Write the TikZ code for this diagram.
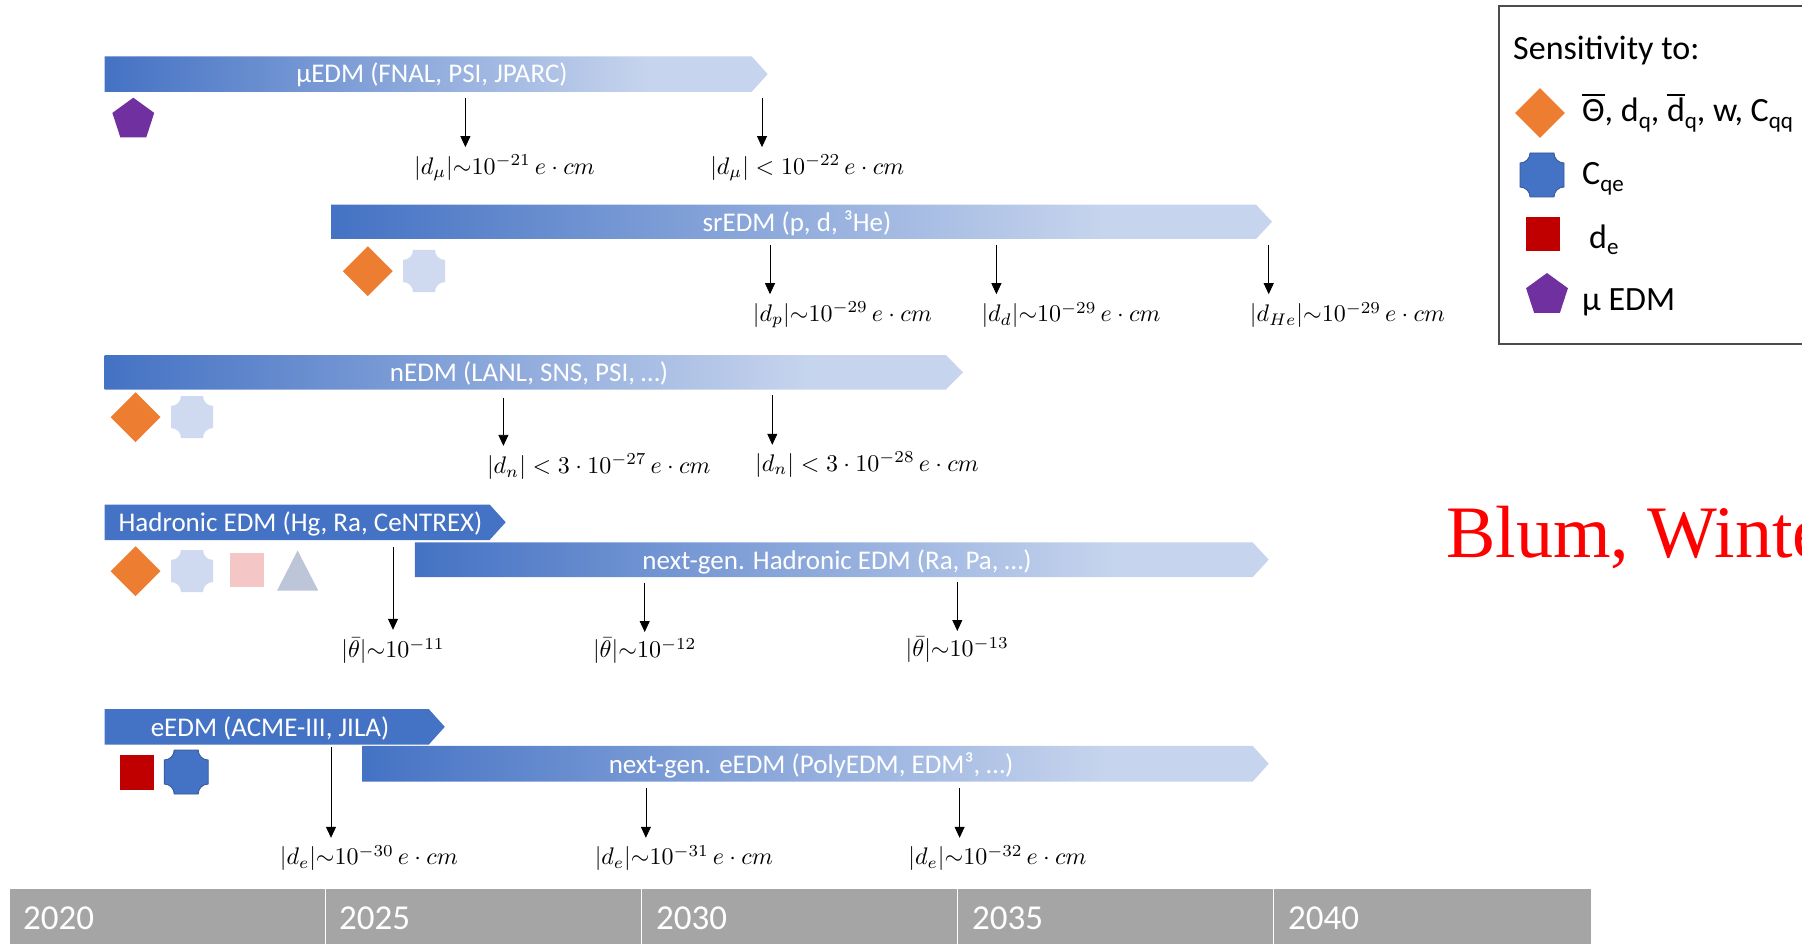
\documentclass[tikz,border=0pt]{standalone}
\usepackage{fontspec}
\setmainfont{Carlito}
\newfontfamily\serifred{Liberation Serif}
\usetikzlibrary{arrows.meta,shapes.geometric}
\definecolor{barblue}{HTML}{4472C4}
\definecolor{barpale}{HTML}{C6D4ED}
\definecolor{paleblue}{HTML}{CFDAF0}
\definecolor{orangeD}{HTML}{ED7D31}
\definecolor{redS}{HTML}{C00000}
\definecolor{pinkS}{HTML}{F4C6C6}
\definecolor{purpleP}{HTML}{7030A0}
\definecolor{greyT}{HTML}{BDC5D8}
\definecolor{greyBar}{HTML}{A5A5A5}
\pgfdeclarehorizontalshading{barfade}{100bp}{color(0bp)=(barblue); color(25bp)=(barblue); color(66bp)=(barpale); color(100bp)=(barpale)}
\newcommand\sz[1]{\fontsize{#1}{#1}\selectfont}
\newcommand\lowtxt[1]{\raisebox{-.2em}{\sz{23}#1}}
\newcommand\ovl[1]{\setbox0\hbox{#1}\rlap{\raisebox{26pt}{\rule{\wd0}{1.6pt}}}\box0}
% fading arrow bar: name, x0, y0, y1, neck, tip, label x, label
\newcommand\fadebar[7]{%
  \path[shading=barfade] (#2,#3) -- (#5,#3) -- (#6,{(#3+#4)/2}) -- (#5,#4) -- (#2,#4) -- cycle;
  \node[barlabel] (#1) at (#7) {\barlabeltext};}
\newcommand\solidbar[6]{%
  \path[fill=barblue] (#2,#3) -- (#5,#3) -- (#6,{(#3+#4)/2}) -- (#5,#4) -- (#2,#4) -- cycle;}
% plaque: cx, cy, half size, style
\newcommand\plaque[4]{%
  \path[#4] ({#1-#3+10},{#2-#3}) -- ({#1+#3-10},{#2-#3})
   .. controls ({#1+#3-10},{#2-#3+5.5}) and ({#1+#3-5.5},{#2-#3+10}) .. ({#1+#3},{#2-#3+10})
   -- ({#1+#3},{#2+#3-10})
   .. controls ({#1+#3-5.5},{#2+#3-10}) and ({#1+#3-10},{#2+#3-5.5}) .. ({#1+#3-10},{#2+#3})
   -- ({#1-#3+10},{#2+#3})
   .. controls ({#1-#3+10},{#2+#3-5.5}) and ({#1-#3+5.5},{#2+#3-10}) .. ({#1-#3},{#2+#3-10})
   -- ({#1-#3},{#2-#3+10})
   .. controls ({#1-#3+5.5},{#2-#3+10}) and ({#1-#3+10},{#2-#3+5.5}) .. ({#1-#3+10},{#2-#3}) -- cycle;}
% arrow: name, x, y0, y1
\newcommand\drop[4]{%
  \coordinate (#1s) at (#2,#3);
  \coordinate (#1e) at (#2,#4);
  \draw[droparrow] (#1s) -- (#1e);}
\tikzset{
  barlabel/.style={text=white,font=\sz{27},inner sep=0pt,anchor=center},
  droparrow/.style={black,line width=0.8pt,-{Triangle[length=11pt,width=10pt]}},
  mathlabel/.style={scale=2.4,inner sep=0pt,anchor=center,text=black},
  yearlabel/.style={text=white,font=\sz{35},inner sep=0pt,anchor=west},
  legendtext/.style={font=\sz{34},inner sep=0pt,anchor=base west,text=black},
  diamondmark/.style={shape=diamond,fill=orangeD,inner sep=0pt,minimum width=50pt,minimum height=50pt},
  pentamark/.style={shape=regular polygon,regular polygon sides=5,fill=purpleP,inner sep=0pt,minimum size=44pt},
}
\begin{document}
\begin{tikzpicture}[x=1pt,y=-1pt]
\useasboundingbox (0,0) rectangle (1802,944);
\clip (0,0) rectangle (1802,944);
% timeline
\path[fill=greyBar] (10.3,889) rectangle (1590.5,944);
\foreach \xx in {325.2,641.3,957.3,1273.4} \draw[white,line width=1.2pt] (\xx,889) -- (\xx,944);
\node[yearlabel] (y20) at (23,918) {2020};
\node[yearlabel] (y25) at (339,918) {2025};
\node[yearlabel] (y30) at (656,918) {2030};
\node[yearlabel] (y35) at (972,918) {2035};
\node[yearlabel] (y40) at (1288,918) {2040};
% bars
\def\barlabeltext{μEDM (FNAL, PSI, JPARC)}
\fadebar{mub}{104.6}{56.3}{91.9}{751.6}{767.7}{432,75}
\def\barlabeltext{srEDM (p, d, ³He)}
\fadebar{srb}{331}{204.6}{239}{1256}{1272}{797,223.5}
\def\barlabeltext{nEDM (LANL, SNS, PSI, …)}
\fadebar{nb}{104.6}{355}{389.6}{945.8}{963}{529,373.5}
\solidbar{hb}{104.6}{504.5}{540}{489.6}{505.7}
\node[barlabel] (hbl) at (300.5,523.5) {Hadronic EDM (Hg, Ra, CeNTREX)};
\def\barlabeltext{next-gen. Hadronic EDM (Ra, Pa, …)}
\fadebar{nhb}{414.9}{542.4}{577}{1252.7}{1268.7}{837,561.5}
\solidbar{eb}{104.6}{709}{744.7}{428.7}{444.8}
\node[barlabel] (ebl) at (270,728.5) {eEDM (ACME-III, JILA)};
\def\barlabeltext{next-gen. eEDM (PolyEDM, EDM³, …)}
\fadebar{neb}{362}{745.9}{781.5}{1252.7}{1268.7}{811,765.5}
% markers
\node[pentamark] (m1) at (133.3,119.7) {};
\node[diamondmark] (m2) at (367.8,271.2) {};
\plaque{424}{271}{21}{fill=paleblue}
\node[diamondmark] (m3) at (135.6,417.2) {};
\plaque{192}{417}{21}{fill=paleblue}
\node[diamondmark] (m4) at (135.6,571.2) {};
\plaque{192}{571}{21}{fill=paleblue}
\path[fill=pinkS] (229.8,552.8) rectangle (264.3,587.3);
\path[fill=greyT] (297.6,550.5) -- (318.3,590.7) -- (277,590.7) -- cycle;
\path[fill=redS] (119.5,755) rectangle (154,789.5);
\plaque{186.2}{772}{22}{fill=barblue,draw=barblue!75!black,line width=0.8pt}
% arrows
\drop{a1}{465.4}{97.7}{147.1}
\drop{a2}{762}{97.7}{147.1}
\drop{a3}{770}{244.8}{294.2}
\drop{a4}{996.4}{244.8}{294.2}
\drop{a5}{1268.7}{244.8}{294.2}
\drop{a6}{503.4}{397.6}{445.9}
\drop{a7}{772.3}{395.3}{444.8}
\drop{a8}{393}{547}{629.8}
\drop{a9}{644.7}{582.7}{632}
\drop{a10}{957.3}{581.5}{631}
\drop{a11}{331}{747}{837.8}
\drop{a12}{645.9}{788.4}{837.8}
\drop{a13}{959.6}{788.4}{837.8}
% math labels
\node[mathlabel] (l1) at (504.5,168) {$|d_\mu|{\sim}10^{-21}\,e\cdot cm$};
\node[mathlabel] (l2) at (807.3,168) {$|d_\mu|<10^{-22}\,e\cdot cm$};
\node[mathlabel] (l3) at (842.4,315) {$|d_p|{\sim}10^{-29}\,e\cdot cm$};
\node[mathlabel] (l4) at (1071,315) {$|d_d|{\sim}10^{-29}\,e\cdot cm$};
\node[mathlabel] (l5) at (1347.5,315) {$|d_{He}|{\sim}10^{-29}\,e\cdot cm$};
\node[mathlabel] (l6) at (598.8,466.8) {$|d_n|<3\cdot10^{-27}\,e\cdot cm$};
\node[mathlabel] (l7) at (867,464.4) {$|d_n|<3\cdot10^{-28}\,e\cdot cm$};
\node[mathlabel] (l8) at (393,651) {$|\bar\theta|{\sim}10^{-11}$};
\node[mathlabel] (l9) at (644.7,651) {$|\bar\theta|{\sim}10^{-12}$};
\node[mathlabel] (l10) at (957.3,650) {$|\bar\theta|{\sim}10^{-13}$};
\node[mathlabel] (l11) at (368.9,858) {$|d_e|{\sim}10^{-30}\,e\cdot cm$};
\node[mathlabel] (l12) at (683.8,858) {$|d_e|{\sim}10^{-31}\,e\cdot cm$};
\node[mathlabel] (l13) at (997.5,858) {$|d_e|{\sim}10^{-32}\,e\cdot cm$};
% legend
\draw[draw=black!70,line width=1.2pt] (1499,6) rectangle (1830,344);
\node[legendtext] (lg0) at (1513,60) {Sensitivity to:};
\node[diamondmark] (lgd) at (1540,113) {};
\node[legendtext] (lg1) at (1582,122) {\ovl{Θ}, d\lowtxt{q}, \ovl{d}\lowtxt{q}, w, C\lowtxt{qq}};
\plaque{1542}{175}{22}{fill=barblue,draw=barblue!75!black,line width=0.8pt}
\node[legendtext] (lg2) at (1582,185) {C\lowtxt{qe}};
\path[fill=redS] (1526,217) rectangle (1560,251);
\node[legendtext] (lg3) at (1589,248) {d\lowtxt{e}};
\node[pentamark] (lgp) at (1547,295) {};
\node[legendtext] (lg4) at (1582,310) {μ EDM};
\node[font=\serifred\sz{74},text=red,inner sep=0pt,anchor=base west] (blum) at (1446,557) {Blum, Winte};
\end{tikzpicture}
\end{document}
